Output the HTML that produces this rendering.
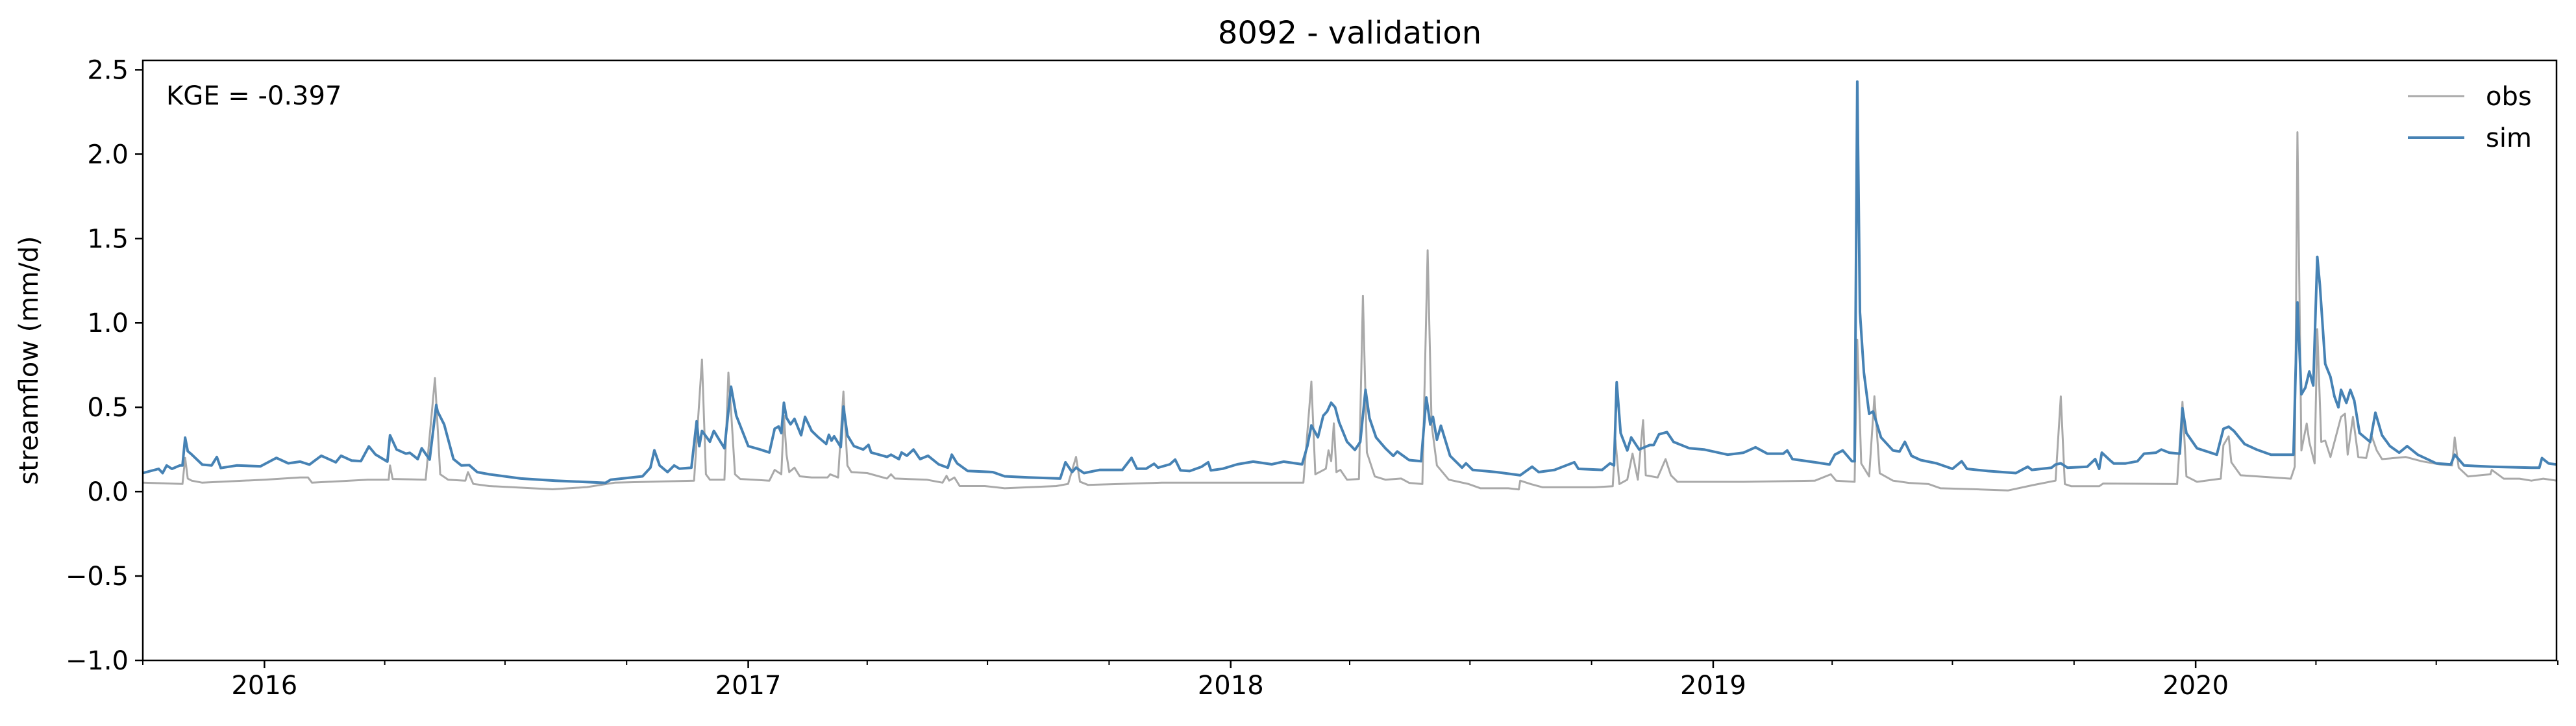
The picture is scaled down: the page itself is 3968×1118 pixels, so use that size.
<!DOCTYPE html>
<html><head><meta charset="utf-8">
<style>
html,body{margin:0;padding:0;background:#fff;}
svg{display:block;font-family:"DejaVu Sans","Liberation Sans",sans-serif;}
</style></head>
<body>
<svg id="chart" width="3968" height="1118" viewBox="0 0 3968 1118" xmlns="http://www.w3.org/2000/svg">
<rect x="0" y="0" width="3968" height="1118" fill="#fff"/>
<text x="2079" y="67" font-size="48" text-anchor="middle">8092 - validation</text>
<g id="plot"></g>
<text x="0" y="0" font-size="40" text-anchor="middle" transform="translate(58,555) rotate(-90)">streamflow (mm/d)</text>
<text x="256" y="161" font-size="40">KGE = -0.397</text>
<g>
<line x1="3709" y1="148" x2="3796" y2="148" stroke="#a9a9a9" stroke-width="3"/>
<text x="3829" y="162" font-size="40">obs</text>
<line x1="3709" y1="212" x2="3796" y2="212" stroke="#4682b4" stroke-width="4"/>
<text x="3829" y="226" font-size="40">sim</text>
</g>
</svg>
<script>
// ---- data (days since 2015-10-01, streamflow mm/d) ----
const startDate = "2015-10-01";
const endDate = "2020-10-01";
const yTicks = [-1.0, -0.5, 0.0, 0.5, 1.0, 1.5, 2.0, 2.5];
const yTickLabels = ["\u22121.0", "\u22120.5", "0.0", "0.5", "1.0", "1.5", "2.0", "2.5"];
const xYears = [2016, 2017, 2018, 2019, 2020];
const xYearLabels = ["2016", "2017", "2018", "2019", "2020"];

const obsDays = [0,30,32,34,37,45,92,119,125,128,170,186,187,189,214,221,225,231,244,246,250,262,310,336,357,417,423,426,429,440,443,445,448,452,462,474,478,483,485,487,489,493,497,506,518,520,526,530,533,536,548,563,566,569,593,605,608,610,614,618,637,652,691,700,706,709,715,771,828,878,884,887,895,897,899,901,903,906,911,920,923,926,932,940,952,958,968,972,975,979,988,1003,1012,1033,1041,1042,1050,1059,1098,1112,1114,1117,1123,1127,1131,1135,1137,1146,1152,1156,1161,1211,1265,1277,1281,1295,1297,1300,1306,1310,1314,1324,1336,1351,1360,1390,1411,1430,1447,1451,1454,1459,1480,1483,1539,1543,1546,1554,1572,1574,1578,1580,1587,1625,1628,1630,1633,1637,1639,1643,1645,1648,1651,1655,1663,1666,1668,1672,1676,1682,1686,1690,1694,1712,1724,1738,1747,1749,1752,1759,1776,1777,1786,1798,1807,1816,1826];
const obsVals = [0.053,0.046,0.2,0.078,0.065,0.053,0.071,0.084,0.084,0.053,0.071,0.071,0.155,0.075,0.071,0.673,0.103,0.071,0.065,0.116,0.046,0.033,0.014,0.027,0.053,0.065,0.782,0.103,0.071,0.071,0.705,0.48,0.103,0.075,0.071,0.065,0.129,0.103,0.45,0.219,0.116,0.142,0.091,0.084,0.084,0.103,0.084,0.593,0.155,0.116,0.11,0.078,0.103,0.078,0.071,0.053,0.094,0.065,0.084,0.033,0.033,0.02,0.033,0.046,0.206,0.059,0.04,0.053,0.053,0.053,0.652,0.103,0.136,0.245,0.181,0.405,0.116,0.129,0.071,0.075,1.161,0.232,0.09,0.071,0.078,0.052,0.045,1.43,0.398,0.155,0.071,0.045,0.02,0.02,0.013,0.065,0.045,0.026,0.026,0.032,0.308,0.045,0.071,0.225,0.071,0.424,0.097,0.084,0.193,0.097,0.058,0.058,0.065,0.103,0.065,0.058,0.9,0.167,0.09,0.565,0.109,0.065,0.052,0.045,0.02,0.013,0.007,0.039,0.065,0.564,0.045,0.032,0.032,0.048,0.045,0.532,0.09,0.058,0.077,0.276,0.328,0.174,0.097,0.077,0.148,2.13,0.244,0.404,0.295,0.167,0.963,0.295,0.302,0.205,0.443,0.462,0.219,0.443,0.205,0.199,0.334,0.244,0.193,0.205,0.18,0.161,0.155,0.321,0.142,0.09,0.103,0.129,0.077,0.077,0.065,0.077,0.065];

const simDays = [0,12,15,18,22,28,30,32,34,37,45,52,56,59,71,89,101,110,119,126,135,146,150,158,165,171,176,185,187,192,199,202,208,211,217,222,223,228,235,241,247,253,262,286,312,350,354,378,384,387,391,397,402,406,415,419,421,423,429,432,440,445,449,458,467,474,478,481,483,485,487,490,493,498,501,506,511,517,519,521,523,528,530,533,538,545,549,551,563,566,572,574,578,583,588,594,602,609,612,616,624,643,652,670,694,698,703,706,712,724,741,748,752,759,765,768,777,781,785,792,801,806,808,817,828,840,854,863,877,881,884,889,893,896,899,902,905,911,917,921,925,928,933,940,946,949,958,967,971,974,976,979,982,989,998,1001,1006,1024,1042,1051,1056,1068,1083,1086,1104,1110,1113,1115,1118,1123,1126,1132,1140,1143,1147,1153,1158,1170,1181,1199,1211,1220,1229,1241,1244,1248,1265,1276,1280,1286,1293,1295,1297,1299,1302,1306,1309,1315,1324,1329,1333,1338,1345,1357,1369,1376,1380,1396,1417,1426,1429,1444,1447,1451,1456,1471,1477,1480,1482,1488,1491,1500,1509,1514,1523,1527,1533,1541,1543,1546,1554,1569,1574,1578,1582,1590,1599,1610,1627,1630,1633,1636,1639,1642,1645,1647,1651,1655,1658,1661,1663,1667,1670,1673,1677,1685,1689,1694,1700,1707,1713,1721,1735,1746,1749,1756,1777,1807,1813,1815,1820,1826];
const simVals = [0.11,0.135,0.11,0.155,0.135,0.155,0.155,0.32,0.24,0.22,0.16,0.155,0.205,0.14,0.155,0.15,0.2,0.168,0.178,0.16,0.213,0.174,0.213,0.184,0.181,0.268,0.22,0.178,0.334,0.25,0.225,0.23,0.193,0.257,0.19,0.514,0.475,0.398,0.193,0.155,0.157,0.116,0.103,0.078,0.065,0.052,0.071,0.091,0.142,0.245,0.155,0.116,0.155,0.136,0.142,0.417,0.27,0.36,0.296,0.36,0.257,0.622,0.45,0.27,0.25,0.232,0.373,0.386,0.347,0.527,0.437,0.399,0.431,0.334,0.443,0.36,0.322,0.283,0.337,0.302,0.328,0.264,0.504,0.334,0.27,0.25,0.277,0.232,0.206,0.219,0.193,0.232,0.213,0.25,0.193,0.213,0.162,0.142,0.219,0.168,0.123,0.116,0.091,0.084,0.078,0.174,0.116,0.142,0.11,0.129,0.129,0.2,0.136,0.136,0.165,0.142,0.162,0.19,0.126,0.122,0.148,0.174,0.126,0.136,0.162,0.178,0.162,0.178,0.162,0.27,0.392,0.322,0.45,0.476,0.527,0.5,0.411,0.296,0.247,0.295,0.603,0.436,0.321,0.257,0.212,0.238,0.187,0.18,0.558,0.398,0.443,0.308,0.391,0.212,0.142,0.168,0.129,0.116,0.097,0.148,0.116,0.129,0.174,0.135,0.129,0.168,0.155,0.648,0.347,0.244,0.321,0.25,0.276,0.276,0.34,0.353,0.295,0.257,0.25,0.219,0.231,0.263,0.225,0.225,0.244,0.193,0.174,0.161,0.219,0.244,0.18,0.18,2.43,1.064,0.706,0.462,0.475,0.321,0.244,0.238,0.295,0.212,0.187,0.168,0.135,0.18,0.135,0.122,0.11,0.148,0.129,0.142,0.161,0.168,0.142,0.148,0.193,0.135,0.231,0.187,0.167,0.167,0.18,0.225,0.231,0.25,0.231,0.225,0.494,0.347,0.257,0.219,0.372,0.385,0.359,0.282,0.25,0.219,0.219,1.121,0.577,0.616,0.712,0.629,1.391,1.224,0.757,0.68,0.564,0.5,0.603,0.526,0.603,0.539,0.347,0.295,0.468,0.334,0.27,0.231,0.27,0.219,0.168,0.161,0.219,0.155,0.148,0.142,0.142,0.199,0.167,0.161];

// ---- axes ----
const X0 = 220, X1 = 3938, Y0 = 93, Y1 = 1017;
const YMIN = -1.0, YMAX = 2.5555;
const t0 = Date.UTC(2015, 9, 1);
const totalDays = (Date.UTC(2020, 9, 1) - t0) / 86400000 - 1;
function xScale(day) { return X0 + (day / totalDays) * (X1 - X0); }
function yScale(v) { return Y1 - (v - YMIN) / (YMAX - YMIN) * (Y1 - Y0); }
function dayOf(y, m, d) { return (Date.UTC(y, m, d) - t0) / 86400000; }

const NS = "http://www.w3.org/2000/svg";
const plot = document.getElementById("plot");
function mk(tag, attrs) { const e = document.createElementNS(NS, tag); for (const k in attrs) e.setAttribute(k, attrs[k]); return e; }

const defs = mk("defs", {});
const cp = mk("clipPath", { id: "clip" });
cp.appendChild(mk("rect", { x: X0, y: Y0, width: X1 - X0, height: Y1 - Y0 }));
defs.appendChild(cp);
plot.appendChild(defs);

function series(days, vals, color, w, name) {
  let d = "";
  for (let i = 0; i < days.length; i++) d += (i ? "L" : "M") + xScale(days[i]).toFixed(1) + "," + yScale(vals[i]).toFixed(1);
  const p = mk("path", { d: d, fill: "none", stroke: color, "stroke-width": w, "stroke-linejoin": "round", "clip-path": "url(#clip)" });
  
  
  plot.appendChild(p);
}
series(obsDays, obsVals, "#a9a9a9", 3, "obs-line");
series(simDays, simVals, "#4682b4", 4, "sim-line");

// y ticks
for (let i = 0; i < yTicks.length; i++) {
  const y = yScale(yTicks[i]);
  const t = mk("line", { x1: X0 - 12, y1: y, x2: X0, y2: y, stroke: "#000", "stroke-width": 2.5 });
  
  
  plot.appendChild(t);
  const lb = mk("text", { x: X0 - 22, y: y + 14, "font-size": 40, "text-anchor": "end" });
  lb.textContent = yTickLabels[i];
  
  
  plot.appendChild(lb);
}
// x major ticks
for (let i = 0; i < xYears.length; i++) {
  const x = xScale(dayOf(xYears[i], 0, 1));
  const t = mk("line", { x1: x, y1: Y1, x2: x, y2: Y1 + 12, stroke: "#000", "stroke-width": 2.5 });
  
  
  plot.appendChild(t);
  const lb = mk("text", { x: x, y: Y1 + 52, "font-size": 40, "text-anchor": "middle" });
  lb.textContent = xYearLabels[i];
  
  
  plot.appendChild(lb);
}
// x minor ticks (quarterly)
for (let yr = 2015; yr <= 2020; yr++) {
  for (const m of [3, 6, 9]) {
    const dd = dayOf(yr, m, 1);
    if (dd < 0 || dd > totalDays + 1) continue;
    const x = xScale(dd);
    const t = mk("line", { x1: x, y1: Y1, x2: x, y2: Y1 + 7, stroke: "#000", "stroke-width": 2 });
    
    
    plot.appendChild(t);
  }
}
const frame = mk("rect", { x: X0, y: Y0, width: X1 - X0, height: Y1 - Y0, fill: "none", stroke: "#000", "stroke-width": 2.5 });


plot.appendChild(frame);
</script>
</body></html>
